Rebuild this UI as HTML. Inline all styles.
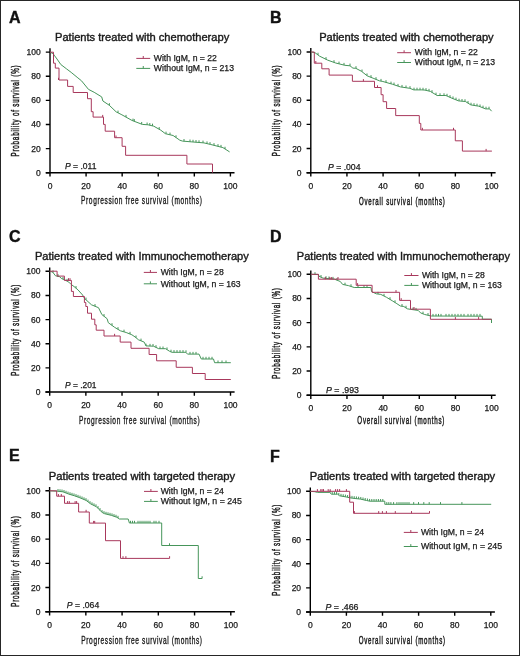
<!DOCTYPE html>
<html><head><meta charset="utf-8"><style>
html,body{margin:0;padding:0;background:#fff;}
svg{display:block;will-change:transform;}
text{font-family:"Liberation Sans", sans-serif;fill:#1a1a1a;stroke:#1a1a1a;stroke-width:0.25px;}
.lt{font-size:16px;font-weight:bold;fill:#111;stroke:#111;stroke-width:0.4px;}
.tt{font-size:11.1px;stroke-width:0.4px;}
.tk{font-size:8.5px;}
.al{font-size:11.1px;stroke-width:0.5px;letter-spacing:1.4px;}
.al2{font-size:10.4px;stroke-width:0.35px;letter-spacing:1px;}
.lg{font-size:8.6px;}
.pv{font-size:8.6px;}
.ax{stroke:#000;stroke-width:1.4;fill:none;}
.cv{stroke-width:1;fill:none;}
</style></head><body>
<svg width="520" height="656" viewBox="0 0 520 656">
<rect x="0" y="0" width="520" height="656" fill="#fff"/>
<rect x="0.5" y="0.5" width="519" height="655" fill="none" stroke="#262626" stroke-width="1"/>
<text x="9" y="22.9" class="lt">A</text>
<text x="55" y="40.8" class="tt" textLength="174.2" lengthAdjust="spacingAndGlyphs">Patients treated with chemotherapy</text>
<path d="M50 48.2V172.7M45.8 172.7H234.5" class="ax"/>
<path d="M45.8 172.7H50M50 172.7V176.5M45.8 148.58H50M86.08 172.7V176.5M45.8 124.46H50M122.16 172.7V176.5M45.8 100.34H50M158.24 172.7V176.5M45.8 76.22H50M194.32 172.7V176.5M45.8 52.1H50M230.4 172.7V176.5" class="ax"/>
<text x="40.8" y="175.7" class="tk" text-anchor="end">0</text>
<text x="50" y="188.5" class="tk" text-anchor="middle">0</text>
<text x="40.8" y="151.58" class="tk" text-anchor="end">20</text>
<text x="86.08" y="188.5" class="tk" text-anchor="middle">20</text>
<text x="40.8" y="127.46" class="tk" text-anchor="end">40</text>
<text x="122.16" y="188.5" class="tk" text-anchor="middle">40</text>
<text x="40.8" y="103.34" class="tk" text-anchor="end">60</text>
<text x="158.24" y="188.5" class="tk" text-anchor="middle">60</text>
<text x="40.8" y="79.22" class="tk" text-anchor="end">80</text>
<text x="194.32" y="188.5" class="tk" text-anchor="middle">80</text>
<text x="40.8" y="55.1" class="tk" text-anchor="end">100</text>
<text x="230.4" y="188.5" class="tk" text-anchor="middle">100</text>
<text x="81" y="204.1" class="al2" textLength="121.6" lengthAdjust="spacingAndGlyphs">Progression free survival (months)</text>
<text transform="translate(18.7 156.5) rotate(-90)" x="0" y="0" class="al" textLength="91.9" lengthAdjust="spacingAndGlyphs">Probability of survival (%)</text>
<path d="M136.3 58.4H150.2M143.25 58.4V56" stroke="#a8385c" class="cv"/>
<text x="153.8" y="60.8" class="lg" textLength="63.1" lengthAdjust="spacingAndGlyphs">With IgM, n = 22</text>
<path d="M136.3 68.4H150.2M143.25 68.4V66" stroke="#46955a" class="cv"/>
<text x="153.8" y="70.8" class="lg" textLength="80.2" lengthAdjust="spacingAndGlyphs">Without IgM, n = 213</text>
<text x="65" y="168.5" class="pv" textLength="31.5" lengthAdjust="spacingAndGlyphs"><tspan font-style="italic">P</tspan> = .011</text>
<path d="M50 52.2 L53 53.5 L54.7 55.9 L57 59 L60.8 64.5 L66.3 68.7 L71.2 72.4 L77.9 77.9 L81.5 80.8 L88.5 89.4 L94.2 92.3 L101.7 96.9 L102.9 101 L109.2 105.2 L116.2 111.9 L121.9 114.8 L131.9 120.4 L142.3 124.4 L148.1 124.8 L153.8 126.2 L160.8 130.2 L165.4 133.7 L173.1 135.5 L179.8 140.2 L182.5 141.1 L191.9 141.9 L204 142.9 L210.8 144.5 L222.9 147.6 L229.6 151.9" stroke="#46955a" class="cv"/>
<path d="M109.4 105.39V103.19M118 112.82V110.62M126 117.1V114.9M133 120.82V118.62M134.3 121.32V119.12M141.7 124.17V121.97M147.1 124.73V122.53M149.8 125.22V123.02M152.5 125.88V123.68M159.2 129.29V127.09M166 133.84V131.64M170 134.78V132.58M176 137.53V135.33M184 141.23V139.03M190 141.74V139.54M193 141.99V139.79M196 142.24V140.04M199 142.49V140.29M203 142.82V140.62M207 143.61V141.41M210 144.31V142.11M214 145.32V143.12M218 146.34V144.14M221 147.11V144.91M225 148.95V146.75" stroke="#46955a" class="cv"/>
<path d="M50 52.2 L53.5 52.2 L53.5 63.2 L55.3 63.2 L55.3 68.1 L59 68.1 L59 80 L67.6 80 L67.6 86.4 L73.2 86.4 L73.2 92.5 L87.5 92.5 L87.5 98.7 L91.3 98.7 L91.3 111.7 L93.1 111.7 L93.1 117.1 L103.5 117.1 L103.5 124.4 L105.2 124.4 L105.2 131.2 L114.6 131.2 L114.6 137.7 L122.1 137.7 L122.1 146.3 L125.6 146.3 L125.6 155.3 L186.9 155.3 L186.9 164 L212.5 164 L212.5 172.6 L212.5 172.6" stroke="#a8385c" class="cv"/>
<path d="M58.5 80V77.8M102.7 117.1V114.9M116 137.7V135.5" stroke="#a8385c" class="cv"/>
<text x="270" y="22.7" class="lt">B</text>
<text x="319.2" y="40.8" class="tt" textLength="174.5" lengthAdjust="spacingAndGlyphs">Patients treated with chemotherapy</text>
<path d="M310.8 48.1V172.7M306.6 172.7H495.6" class="ax"/>
<path d="M306.6 172.7H310.8M310.8 172.7V176.5M306.6 148.56H310.8M346.94 172.7V176.5M306.6 124.42H310.8M383.08 172.7V176.5M306.6 100.28H310.8M419.22 172.7V176.5M306.6 76.14H310.8M455.36 172.7V176.5M306.6 52H310.8M491.5 172.7V176.5" class="ax"/>
<text x="301.6" y="175.7" class="tk" text-anchor="end">0</text>
<text x="310.8" y="188.5" class="tk" text-anchor="middle">0</text>
<text x="301.6" y="151.56" class="tk" text-anchor="end">20</text>
<text x="346.94" y="188.5" class="tk" text-anchor="middle">20</text>
<text x="301.6" y="127.42" class="tk" text-anchor="end">40</text>
<text x="383.08" y="188.5" class="tk" text-anchor="middle">40</text>
<text x="301.6" y="103.28" class="tk" text-anchor="end">60</text>
<text x="419.22" y="188.5" class="tk" text-anchor="middle">60</text>
<text x="301.6" y="79.14" class="tk" text-anchor="end">80</text>
<text x="455.36" y="188.5" class="tk" text-anchor="middle">80</text>
<text x="301.6" y="55" class="tk" text-anchor="end">100</text>
<text x="491.5" y="188.5" class="tk" text-anchor="middle">100</text>
<text x="359" y="204.5" class="al" textLength="86.6" lengthAdjust="spacingAndGlyphs">Overall survival (months)</text>
<text transform="translate(280 156.2) rotate(-90)" x="0" y="0" class="al" textLength="91.6" lengthAdjust="spacingAndGlyphs">Probability of survival (%)</text>
<path d="M397.2 52.7H411M404.1 52.7V50.3" stroke="#a8385c" class="cv"/>
<text x="414.8" y="55.4" class="lg" textLength="63" lengthAdjust="spacingAndGlyphs">With IgM, n = 22</text>
<path d="M397.2 62.5H411M404.1 62.5V60.1" stroke="#46955a" class="cv"/>
<text x="414.8" y="65.4" class="lg" textLength="80.3" lengthAdjust="spacingAndGlyphs">Without IgM, n = 213</text>
<text x="328" y="170.2" class="pv" textLength="32.5" lengthAdjust="spacingAndGlyphs"><tspan font-style="italic">P</tspan> = .004</text>
<path d="M310.8 52 L314.9 52.6 L319.5 56.1 L327.6 60.1 L335.7 63 L344.9 65.3 L350 65.8 L352.9 68.1 L355.8 68.3 L361.5 71.3 L367.3 75.9 L373.1 78.2 L379.4 80.8 L382.9 81.5 L392.3 84.2 L400.4 86.9 L409.8 88.3 L413.8 89.9 L421.9 89.9 L425 90.1 L430.4 91.4 L437.1 95.5 L445.9 95.5 L451.9 98.2 L458.6 100.9 L465.4 101.5 L470.8 104.9 L478.8 106.2 L485.6 108.9 L489.6 108.9 L491.6 111.2" stroke="#46955a" class="cv"/>
<path d="M318 54.96V52.76M326 59.31V57.11M334 62.39V60.19M339 63.83V61.62M344 65.08V62.88M350 65.8V63.6M356 68.41V66.21M362 71.7V69.5M367 75.66V73.46M371 77.37V75.17M376 79.4V77.2M381 81.12V78.92M386 82.39V80.19M391 83.83V81.63M394 84.77V82.57M398 86.1V83.9M402 87.14V84.94M406 87.73V85.53M410 88.38V86.18M414 89.9V87.7M417 89.9V87.7M420 89.9V87.7M423 89.97V87.77M426 90.34V88.14M429 91.06V88.86M432 92.38V90.18M436 94.83V92.63M440 95.5V93.3M444 95.5V93.3M447 96V93.8M450 97.35V95.15M453 98.64V96.44M456 99.85V97.65M459 100.94V98.74M462 101.2V99M465 101.46V99.26M468 103.14V100.94M471 104.93V102.73M474 105.42V103.22M477 105.91V103.71M480 106.68V104.48M483 107.87V105.67M486 108.9V106.7M489 108.9V106.7" stroke="#46955a" class="cv"/>
<path d="M310.8 52 L314.3 52 L314.3 63.2 L321.8 63.2 L321.8 68.8 L329.1 68.8 L329.1 75.1 L352.4 75.1 L352.4 81.3 L374.5 81.3 L374.5 87.5 L381.1 87.5 L381.1 94.7 L383.1 94.7 L383.1 101.7 L386.6 101.7 L386.6 108.5 L395.7 108.5 L395.7 115.6 L419.3 115.6 L419.3 123.4 L420.8 123.4 L420.8 130 L455.3 130 L455.3 140.8 L462.4 140.8 L462.4 151.1 L491.9 151.1" stroke="#a8385c" class="cv"/>
<path d="M315.8 63.2V61M363.4 81.3V79.1M377.5 87.5V85.3M422.4 130V127.8M453.5 130V127.8M486.1 151.1V148.9" stroke="#a8385c" class="cv"/>
<text x="9" y="242.3" class="lt">C</text>
<text x="34.9" y="260" class="tt" textLength="213.9" lengthAdjust="spacingAndGlyphs">Patients treated with Immunochemotherapy</text>
<path d="M49.7 267.4V392M45.5 392H234.6" class="ax"/>
<path d="M45.5 392H49.7M49.7 392V395.8M45.5 367.86H49.7M85.86 392V395.8M45.5 343.72H49.7M122.02 392V395.8M45.5 319.58H49.7M158.18 392V395.8M45.5 295.44H49.7M194.34 392V395.8M45.5 271.3H49.7M230.5 392V395.8" class="ax"/>
<text x="40.5" y="395" class="tk" text-anchor="end">0</text>
<text x="49.7" y="407.8" class="tk" text-anchor="middle">0</text>
<text x="40.5" y="370.86" class="tk" text-anchor="end">20</text>
<text x="85.86" y="407.8" class="tk" text-anchor="middle">20</text>
<text x="40.5" y="346.72" class="tk" text-anchor="end">40</text>
<text x="122.02" y="407.8" class="tk" text-anchor="middle">40</text>
<text x="40.5" y="322.58" class="tk" text-anchor="end">60</text>
<text x="158.18" y="407.8" class="tk" text-anchor="middle">60</text>
<text x="40.5" y="298.44" class="tk" text-anchor="end">80</text>
<text x="194.34" y="407.8" class="tk" text-anchor="middle">80</text>
<text x="40.5" y="274.3" class="tk" text-anchor="end">100</text>
<text x="230.5" y="407.8" class="tk" text-anchor="middle">100</text>
<text x="79" y="423.6" class="al2" textLength="121.3" lengthAdjust="spacingAndGlyphs">Progression free survival (months)</text>
<text transform="translate(18.7 375.8) rotate(-90)" x="0" y="0" class="al" textLength="92" lengthAdjust="spacingAndGlyphs">Probability of survival (%)</text>
<path d="M143.8 272.4H157M150.4 272.4V270" stroke="#a8385c" class="cv"/>
<text x="160.7" y="274.7" class="lg" textLength="63" lengthAdjust="spacingAndGlyphs">With IgM, n = 28</text>
<path d="M143.8 283.8H157M150.4 283.8V281.4" stroke="#46955a" class="cv"/>
<text x="160.7" y="286.5" class="lg" textLength="80" lengthAdjust="spacingAndGlyphs">Without IgM, n = 163</text>
<text x="65" y="387.8" class="pv" textLength="31.5" lengthAdjust="spacingAndGlyphs"><tspan font-style="italic">P</tspan> = .201</text>
<path d="M49.7 271.2 L52.6 272 L55.5 275.8 L59.5 276.7 L61.8 278.7 L64.7 279.8 L68.8 282.1 L71.1 284.4 L74 286.5 L78 289.9 L82.6 295 L84.6 298.5 L91.5 304.8 L98.5 307.7 L101.9 314.6 L107.1 318.7 L108.3 322.7 L114.6 327.3 L120.4 330.8 L126.2 332.5 L131.9 334.8 L135 336.9 L138.5 339.8 L144.2 342.1 L146 345.9 L153.5 346.2 L158.7 348.7 L165.6 348.7 L169.6 351.3 L171.9 352.3 L185.8 352.3 L187.5 354.1 L199 354.1 L201.3 359 L213.5 359 L214.6 362.7 L230.8 362.7" stroke="#46955a" class="cv"/>
<path d="M53 272.52V270.32M58 276.36V274.16M63 279.16V276.96M67 281.09V278.89M76 288.2V286M86 299.78V297.58M95 306.25V304.05M104 316.26V314.06M112 325.4V323.2M118 329.35V327.15M124 331.86V329.66M130 334.03V331.83M136 337.73V335.53M141 340.81V338.61M146 345.9V343.7M150 346.06V343.86M153 346.18V343.98M156 347.4V345.2M160 348.7V346.5M163 348.7V346.5M167 349.61V347.41M171 351.91V349.71M174 352.3V350.1M177 352.3V350.1M180 352.3V350.1M183 352.3V350.1M186 352.51V350.31M190 354.1V351.9M193 354.1V351.9M196 354.1V351.9M203 359V356.8M206 359V356.8M209 359V356.8M212 359V356.8M218 362.7V360.5M222 362.7V360.5M226 362.7V360.5" stroke="#46955a" class="cv"/>
<path d="M49.7 271.2 L57.1 271.2 L57.1 276.1 L64.4 276.1 L64.4 280.4 L71.4 280.4 L71.4 291.4 L73.4 291.4 L73.4 296.5 L84.4 296.5 L84.4 302.5 L85.8 302.5 L85.8 306.5 L87.5 306.5 L87.5 313.2 L91.5 313.2 L91.5 319.2 L94.8 319.2 L94.8 324.8 L96.2 324.8 L96.2 330.2 L104 330.2 L104 336 L120.2 336 L120.2 342.1 L131 342.1 L131 348.3 L149.1 348.3 L149.1 354.5 L156.6 354.5 L156.6 360.8 L176.2 360.8 L176.2 367.3 L192.4 367.3 L192.4 373.5 L205.2 373.5 L205.2 379.5 L230.8 379.5" stroke="#a8385c" class="cv"/>
<path d="M68.5 280.4V278.2M70 280.4V278.2M114.6 336V333.8" stroke="#a8385c" class="cv"/>
<text x="270" y="241.9" class="lt">D</text>
<text x="296.8" y="260" class="tt" textLength="213.2" lengthAdjust="spacingAndGlyphs">Patients treated with Immunochemotherapy</text>
<path d="M310.8 270.4V395.2M306.6 395.2H495.7" class="ax"/>
<path d="M306.6 395.2H310.8M310.8 395.2V399M306.6 371.02H310.8M346.96 395.2V399M306.6 346.84H310.8M383.12 395.2V399M306.6 322.66H310.8M419.28 395.2V399M306.6 298.48H310.8M455.44 395.2V399M306.6 274.3H310.8M491.6 395.2V399" class="ax"/>
<text x="301.6" y="398.2" class="tk" text-anchor="end">0</text>
<text x="310.8" y="411" class="tk" text-anchor="middle">0</text>
<text x="301.6" y="374.02" class="tk" text-anchor="end">20</text>
<text x="346.96" y="411" class="tk" text-anchor="middle">20</text>
<text x="301.6" y="349.84" class="tk" text-anchor="end">40</text>
<text x="383.12" y="411" class="tk" text-anchor="middle">40</text>
<text x="301.6" y="325.66" class="tk" text-anchor="end">60</text>
<text x="419.28" y="411" class="tk" text-anchor="middle">60</text>
<text x="301.6" y="301.48" class="tk" text-anchor="end">80</text>
<text x="455.44" y="411" class="tk" text-anchor="middle">80</text>
<text x="301.6" y="277.3" class="tk" text-anchor="end">100</text>
<text x="491.6" y="411" class="tk" text-anchor="middle">100</text>
<text x="357.3" y="424.3" class="al" textLength="87.9" lengthAdjust="spacingAndGlyphs">Overall survival (months)</text>
<text transform="translate(280 378.8) rotate(-90)" x="0" y="0" class="al" textLength="91.5" lengthAdjust="spacingAndGlyphs">Probability of survival (%)</text>
<path d="M404.3 275.5H418.5M411.4 275.5V273.1" stroke="#a8385c" class="cv"/>
<text x="421.9" y="278" class="lg" textLength="63" lengthAdjust="spacingAndGlyphs">With IgM, n = 28</text>
<path d="M404.3 285.4H418.5M411.4 285.4V283" stroke="#46955a" class="cv"/>
<text x="421.9" y="287.8" class="lg" textLength="80" lengthAdjust="spacingAndGlyphs">Without IgM, n = 163</text>
<text x="326" y="393" class="pv" textLength="33" lengthAdjust="spacingAndGlyphs"><tspan font-style="italic">P</tspan> = .993</text>
<path d="M310.8 274.3 L318.4 274.5 L319 276.3 L323 278.1 L334.5 279.2 L340.3 281.5 L342.6 284.4 L348.4 285.6 L354.2 287.5 L371 287.5 L371.5 291.5 L376.2 293.8 L380.8 294.4 L386.5 297.3 L392.3 300.8 L396.9 303.7 L400.4 306 L403.8 306.5 L407.3 308.8 L410.8 309.4 L418.2 310.4 L420.6 312.9 L424.7 314.5 L431.2 316 L482.3 316.2 L482.3 319.2 L491.5 319.2 L491.5 323" stroke="#46955a" class="cv"/>
<path d="M433 316.1V313.9M436 316.1V313.9M438.5 316.1V313.9M441 316.1V313.9M446 316.1V313.9M449 316.1V313.9M452 316.1V313.9M455 316.1V313.9M458 316.1V313.9M461 316.1V313.9M464 316.1V313.9M468 316.1V313.9M471 316.1V313.9M474 316.1V313.9M477 316.1V313.9M480 316.1V313.9M315 274.41V272.21M321 277.2V275M326 278.39V276.19M329 278.67V276.47M333 279.06V276.86M337 280.19V277.99M345 284.9V282.7M351 286.45V284.25M358 287.5V285.3M364 287.5V285.3M367 287.5V285.3M378 294.03V291.83M384 296.03V293.83M390 299.41V297.21M395 302.5V300.3M402 306.24V304.04M406 307.95V305.75M413 309.7V307.5M416 310.1V307.9M423 313.84V311.64M428 315.26V313.06" stroke="#46955a" class="cv"/>
<path d="M310.8 274.3 L318.4 274.3 L318.4 279.2 L356.2 279.2 L356.2 285.3 L372.1 285.3 L372.1 292.3 L399.6 292.3 L399.6 300.4 L410.5 300.4 L410.5 309.2 L430.4 309.2 L430.4 319.3 L491.7 319.3" stroke="#a8385c" class="cv"/>
<path d="M325.3 279.2V277M329.9 279.2V277M331.7 279.2V277M338 279.2V277M357.6 285.3V283.1M396 292.3V290.1M401.2 300.4V298.2M414 309.2V307M455.4 319.3V317.1M478.6 319.3V317.1" stroke="#a8385c" class="cv"/>
<text x="9" y="461.2" class="lt">E</text>
<text x="48.8" y="479.6" class="tt" textLength="186.4" lengthAdjust="spacingAndGlyphs">Patients treated with targeted therapy</text>
<path d="M49.6 486.9V611.7M45.4 611.7H234.9" class="ax"/>
<path d="M45.4 611.7H49.6M49.6 611.7V615.5M45.4 587.52H49.6M85.84 611.7V615.5M45.4 563.34H49.6M122.08 611.7V615.5M45.4 539.16H49.6M158.32 611.7V615.5M45.4 514.98H49.6M194.56 611.7V615.5M45.4 490.8H49.6M230.8 611.7V615.5" class="ax"/>
<text x="40.4" y="614.7" class="tk" text-anchor="end">0</text>
<text x="49.6" y="627.5" class="tk" text-anchor="middle">0</text>
<text x="40.4" y="590.52" class="tk" text-anchor="end">20</text>
<text x="85.84" y="627.5" class="tk" text-anchor="middle">20</text>
<text x="40.4" y="566.34" class="tk" text-anchor="end">40</text>
<text x="122.08" y="627.5" class="tk" text-anchor="middle">40</text>
<text x="40.4" y="542.16" class="tk" text-anchor="end">60</text>
<text x="158.32" y="627.5" class="tk" text-anchor="middle">60</text>
<text x="40.4" y="517.98" class="tk" text-anchor="end">80</text>
<text x="194.56" y="627.5" class="tk" text-anchor="middle">80</text>
<text x="40.4" y="493.8" class="tk" text-anchor="end">100</text>
<text x="230.8" y="627.5" class="tk" text-anchor="middle">100</text>
<text x="81.3" y="643.6" class="al2" textLength="121.4" lengthAdjust="spacingAndGlyphs">Progression free survival (months)</text>
<text transform="translate(18.7 606.8) rotate(-90)" x="0" y="0" class="al" textLength="91.4" lengthAdjust="spacingAndGlyphs">Probability of survival (%)</text>
<path d="M144 491.4H157.8M150.9 491.4V489" stroke="#a8385c" class="cv"/>
<text x="160.7" y="494.2" class="lg" textLength="63.2" lengthAdjust="spacingAndGlyphs">With IgM, n = 24</text>
<path d="M144 501.4H157.8M150.9 501.4V499" stroke="#46955a" class="cv"/>
<text x="160.7" y="504.1" class="lg" textLength="81.2" lengthAdjust="spacingAndGlyphs">Without IgM, n = 245</text>
<text x="66.8" y="607.6" class="pv" textLength="32.4" lengthAdjust="spacingAndGlyphs"><tspan font-style="italic">P</tspan> = .064</text>
<path d="M49.6 490.8 L57.2 491.2 L63 491.8 L68.8 494.1 L74.5 495.8 L79.2 497.5 L86.1 500.4 L90.7 503.9 L96.5 506.8 L99.9 510.2 L102.2 512.5 L104.6 513.7 L111.5 515.4 L116.9 517.3 L119.5 519 L128.2 519 L129.4 523 L161.7 523 L161.7 545.5 L198.3 545.5 L198.3 578.5 L202.1 578.5" stroke="#46955a" class="cv"/>
<path d="M58 491.28V489.08M60 491.49V489.29M62 491.7V489.5M64 492.2V490M66 492.99V490.79M68 493.78V491.58M70 494.46V492.26M72 495.05V492.85M74 495.65V493.45M76 496.34V494.14M78 497.07V494.87M80 497.84V495.64M82 498.68V496.48M84 499.52V497.32M86 500.36V498.16M88 501.85V499.65M90 503.37V501.17M92 504.55V502.35M94 505.55V503.35M96 506.55V504.35M98 508.3V506.1M100 510.3V508.1M102 512.3V510.1M104 513.4V511.2M106 514.04V511.84M108 514.54V512.34M110 515.03V512.83M112 515.58V513.38M114 516.28V514.08M116 516.98V514.78M118 518.02V515.82M130.5 523V520.8M132.5 523V520.8M134.5 523V520.8M138 523V520.8M140 523V520.8M142 523V520.8M144 523V520.8M146 523V520.8M148 523V520.8M150 523V520.8M154 523V520.8M156 523V520.8M159 523V520.8M169.5 545.5V543.3M202.1 578.5V576.3" stroke="#46955a" class="cv"/>
<path d="M49.6 490.8 L56.7 490.8 L56.7 496.2 L64.5 496.2 L64.5 503.3 L78.6 503.3 L78.6 512 L89.3 512 L89.3 523.1 L105.5 523.1 L105.5 540.7 L120.5 540.7 L120.5 558.4 L169.6 558.4" stroke="#a8385c" class="cv"/>
<path d="M58.4 496.2V494M61.3 496.2V494M67.6 503.3V501.1M69.3 503.3V501.1M75.1 503.3V501.1M76.6 503.3V501.1M86.1 512V509.8M93.6 523.1V520.9M94.7 523.1V520.9M123 558.4V556.2M125.9 558.4V556.2M169.6 558.4V556.2" stroke="#a8385c" class="cv"/>
<text x="270" y="461.5" class="lt">F</text>
<text x="309.8" y="479.6" class="tt" textLength="185.4" lengthAdjust="spacingAndGlyphs">Patients treated with targeted therapy</text>
<path d="M310.3 487.4V612M306.1 612H494.9" class="ax"/>
<path d="M306.1 612H310.3M310.3 612V615.8M306.1 587.86H310.3M346.4 612V615.8M306.1 563.72H310.3M382.5 612V615.8M306.1 539.58H310.3M418.6 612V615.8M306.1 515.44H310.3M454.7 612V615.8M306.1 491.3H310.3M490.8 612V615.8" class="ax"/>
<text x="301.1" y="615" class="tk" text-anchor="end">0</text>
<text x="310.3" y="627.8" class="tk" text-anchor="middle">0</text>
<text x="301.1" y="590.86" class="tk" text-anchor="end">20</text>
<text x="346.4" y="627.8" class="tk" text-anchor="middle">20</text>
<text x="301.1" y="566.72" class="tk" text-anchor="end">40</text>
<text x="382.5" y="627.8" class="tk" text-anchor="middle">40</text>
<text x="301.1" y="542.58" class="tk" text-anchor="end">60</text>
<text x="418.6" y="627.8" class="tk" text-anchor="middle">60</text>
<text x="301.1" y="518.44" class="tk" text-anchor="end">80</text>
<text x="454.7" y="627.8" class="tk" text-anchor="middle">80</text>
<text x="301.1" y="494.3" class="tk" text-anchor="end">100</text>
<text x="490.8" y="627.8" class="tk" text-anchor="middle">100</text>
<text x="358.7" y="643.8" class="al" textLength="87.1" lengthAdjust="spacingAndGlyphs">Overall survival (months)</text>
<text transform="translate(280 595.8) rotate(-90)" x="0" y="0" class="al" textLength="92" lengthAdjust="spacingAndGlyphs">Probability of survival (%)</text>
<path d="M403.8 532.4H417.8M410.8 532.4V530" stroke="#a8385c" class="cv"/>
<text x="420.9" y="535" class="lg" textLength="63.2" lengthAdjust="spacingAndGlyphs">With IgM, n = 24</text>
<path d="M403.8 546.5H417.8M410.8 546.5V544.1" stroke="#46955a" class="cv"/>
<text x="420.9" y="549" class="lg" textLength="81.2" lengthAdjust="spacingAndGlyphs">Without IgM, n = 245</text>
<text x="325.5" y="609.6" class="pv" textLength="33" lengthAdjust="spacingAndGlyphs"><tspan font-style="italic">P</tspan> = .466</text>
<path d="M310.3 491.3 L314.7 491.7 L317.4 492.4 L329.5 492.4 L331.6 494.2 L337.6 494.2 L339.6 495.8 L347 497.1 L349.7 497.8 L355.1 498.5 L360.5 499.1 L366.5 500.5 L370 501.2 L384.8 501.2 L384.8 504.3 L491.2 504.3" stroke="#46955a" class="cv"/>
<path d="M330 492.83V490.63M332.2 494.2V492M334.4 494.2V492M336.6 494.2V492M338.8 495.16V492.96M341 496.05V493.85M343.2 496.43V494.23M345.4 496.82V494.62M347.6 497.26V495.06M349.8 497.81V495.61M352 498.1V495.9M354.2 498.38V496.18M356.4 498.64V496.44M358.6 498.89V496.69M360.8 499.17V496.97M363 499.68V497.48M365.2 500.2V498M367.4 500.68V498.48M369.6 501.12V498.92M371.8 501.2V499M374 501.2V499M376.2 501.2V499M378.4 501.2V499M380.6 501.2V499M382.8 501.2V499M386.8 504.3V502.1M388.8 504.3V502.1M390.9 504.3V502.1M393.6 504.3V502.1M396.9 504.3V502.1M399 504.3V502.1M401 504.3V502.1M403 504.3V502.1M405 504.3V502.1M407 504.3V502.1M409 504.3V502.1M413.7 504.3V502.1M418.5 504.3V502.1M423.8 504.3V502.1M429.2 504.3V502.1M440.5 504.3V502.1M461.9 504.3V502.1" stroke="#46955a" class="cv"/>
<path d="M310.3 491.3 L349.7 491.3 L349.7 502.2 L353.5 502.2 L353.5 513.3 L429.5 513.3" stroke="#a8385c" class="cv"/>
<path d="M317.4 491.3V489.1M320.8 491.3V489.1M322.1 491.3V489.1M323.5 491.3V489.1M328.2 491.3V489.1M330.2 491.3V489.1M335.6 491.3V489.1M337.6 491.3V489.1M339.6 491.3V489.1M346.4 491.3V489.1M354.4 513.3V511.1M378.7 513.3V511.1M382.4 513.3V511.1M386.4 513.3V511.1M395.3 513.3V511.1M411.5 513.3V511.1M429.5 513.3V511.1" stroke="#a8385c" class="cv"/>
</svg>
</body></html>
